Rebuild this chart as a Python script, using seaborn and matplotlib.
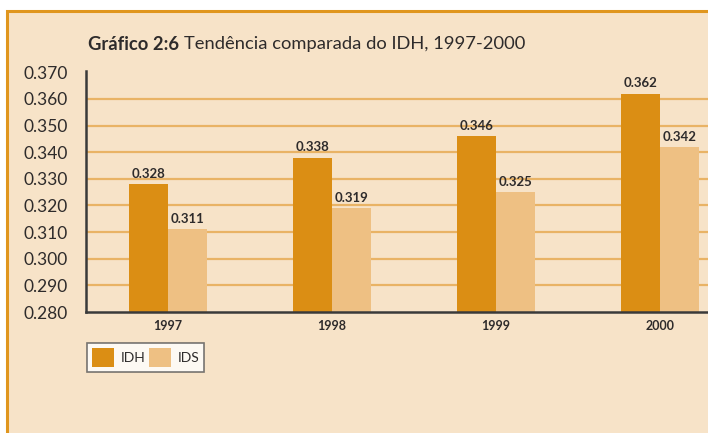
import pandas as pd
import numpy as np
import matplotlib.pyplot as plt
import seaborn as sns
from matplotlib.patches import Rectangle, Patch

# Dados do gráfico
anos = ['1997', '1998', '1999', '2000']
idh = [0.328, 0.338, 0.346, 0.362]
ids = [0.311, 0.319, 0.325, 0.342]
series = ['IDH', 'IDS']
y_ticks = [0.280, 0.290, 0.300, 0.310, 0.320, 0.330, 0.340, 0.350, 0.360, 0.370]

cor_idh = '#DB8E14'
cor_ids = '#EEC083'
fundo = '#F7E3C8'
borda = '#E0961E'
grade = '#E9B365'
texto = '#2E2B2B'

sns.set_style('white')
plt.rcParams['font.family'] = ['Lato', 'DejaVu Sans']

df = pd.DataFrame({
    'Ano': anos * 2,
    'Valor': idh + ids,
    'Índice': [series[0]] * len(anos) + [series[1]] * len(anos),
})

fig = plt.figure(figsize=(7.08, 4.33), dpi=100)
fig.patch.set_facecolor('white')

# moldura de fundo com borda laranja
W, H = 708, 433
moldura = Rectangle((7 / W, -0.1), 1.2, 1 - 11 / H + 0.1, transform=fig.transFigure,
                    facecolor=fundo, edgecolor=borda, linewidth=2.2, zorder=-5)
fig.add_artist(moldura)

ax = fig.add_axes([86 / W, 1 - 312 / H, 656 / W, 241 / H])
ax.set_facecolor('none')
ax.set_zorder(2)

sns.barplot(data=df, x='Ano', y='Valor', hue='Índice', palette=[cor_idh, cor_ids],
            width=0.48, gap=0, saturation=1, linewidth=0, ax=ax, legend=False, zorder=3)

ax.set_ylim(0.280, 0.3705)
ax.set_xlim(-0.5, 3.5)
ax.set_yticks(y_ticks)
ax.set_yticklabels([f'{v:.3f}' for v in y_ticks], fontsize=12.5, color=texto)
ax.yaxis.grid(True, color=grade, linewidth=1.6)
ax.set_axisbelow(True)
ax.get_ygridlines()[-1].set_visible(False)
ax.get_ygridlines()[0].set_visible(False)
ax.tick_params(axis='y', length=0, pad=13)

ax.set_xticks(range(len(anos)))
ax.set_xticklabels(anos, fontsize=9, fontweight='bold', color=texto)
ax.tick_params(axis='x', which='major', length=0, pad=6)
ax.set_xticks([0.5, 1.5, 2.5], minor=True)
ax.tick_params(axis='x', which='minor', length=5, width=1, color='#555555', direction='out')
ax.set_xlabel('')
ax.set_ylabel('')

for s in ['top', 'right']:
    ax.spines[s].set_visible(False)
for s in ['left', 'bottom']:
    ax.spines[s].set_color('#3A3A3A')
    ax.spines[s].set_linewidth(1.8)
    ax.spines[s].set_zorder(4)

for c in ax.containers:
    ax.bar_label(c, fmt='%.3f', padding=3, fontsize=9.5, fontweight='bold', color=texto)

# legenda
handles = [Patch(facecolor=cor_idh, edgecolor='none'), Patch(facecolor=cor_ids, edgecolor='none')]
leg = fig.legend(handles, series, loc='upper left', bbox_to_anchor=(87 / W, 1 - 343 / H),
                 ncol=2, fontsize=10, frameon=True, fancybox=False, handlelength=1.6,
                 handleheight=1.75, handletextpad=0.45, columnspacing=0.3, borderpad=0.35,
                 borderaxespad=0)
leg.get_frame().set_edgecolor('#555555')
leg.get_frame().set_linewidth(1.2)
leg.get_frame().set_facecolor('white')
for t in leg.get_texts():
    t.set_color(texto)

# título
t1 = fig.text(88 / W, 1 - 44 / H, 'Gráfico 2:6', fontsize=13.2, fontweight='bold',
              color=texto, va='center', ha='left')
fig.canvas.draw()
bb = t1.get_window_extent()
fig.text((bb.x1 + 5) / W, 1 - 44 / H, 'Tendência comparada do IDH, 1997-2000',
         fontsize=13.2, color=texto, va='center', ha='left')

plt.savefig('out.png', dpi=100)
